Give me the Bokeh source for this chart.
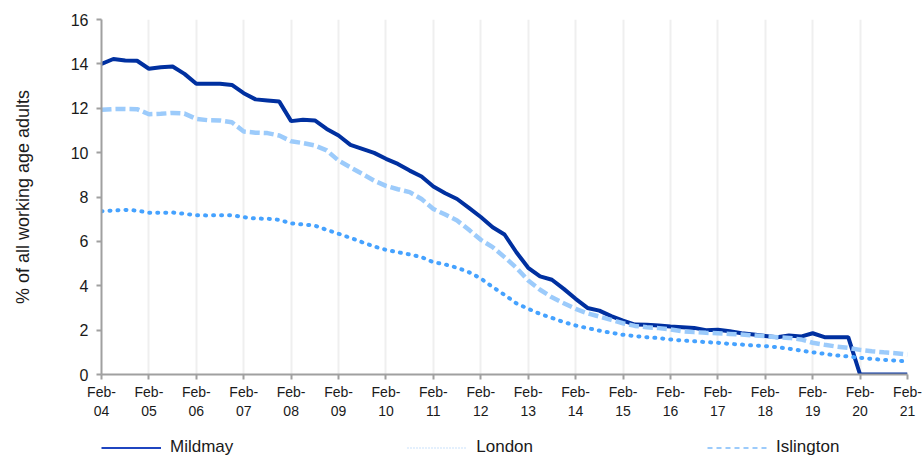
from bokeh.plotting import figure
from bokeh.layouts import column
from bokeh.models import Range1d, FixedTicker, Legend, LegendItem
from bokeh.embed import file_html
from bokeh.resources import INLINE

tick_labels = ["Feb-\n04", "Feb-\n05", "Feb-\n06", "Feb-\n07", "Feb-\n08", "Feb-\n09",
               "Feb-\n10", "Feb-\n11", "Feb-\n12", "Feb-\n13", "Feb-\n14", "Feb-\n15",
               "Feb-\n16", "Feb-\n17", "Feb-\n18", "Feb-\n19", "Feb-\n20", "Feb-\n21"]

mildmay = [14.0, 14.22, 14.15, 14.14, 13.78, 13.85, 13.88, 13.55, 13.1, 13.1,
           13.1, 13.05, 12.68, 12.4, 12.35, 12.3, 11.42, 11.48, 11.45, 11.07,
           10.77, 10.35, 10.17, 9.99, 9.72, 9.49, 9.19, 8.92, 8.47, 8.17,
           7.91, 7.51, 7.1, 6.64, 6.31, 5.51, 4.81, 4.42, 4.27, 3.86,
           3.41, 3.0, 2.88, 2.63, 2.43, 2.25, 2.24, 2.21, 2.16, 2.13,
           2.1, 2.0, 2.02, 1.95, 1.86, 1.8, 1.74, 1.68, 1.76, 1.71,
           1.86, 1.68, 1.68, 1.68, 0.0, 0.0, 0.0, 0.0, 0.0]

london = [7.36, 7.39, 7.42, 7.39, 7.29, 7.29, 7.3, 7.24, 7.18, 7.17,
          7.18, 7.18, 7.09, 7.03, 7.02, 6.97, 6.81, 6.76, 6.71, 6.52,
          6.34, 6.16, 5.96, 5.77, 5.62, 5.51, 5.41, 5.29, 5.06, 4.96,
          4.81, 4.61, 4.33, 3.94, 3.59, 3.21, 2.96, 2.73, 2.55, 2.36,
          2.21, 2.09, 1.98, 1.88, 1.79, 1.73, 1.68, 1.64, 1.58, 1.53,
          1.5, 1.46, 1.43, 1.38, 1.35, 1.31, 1.28, 1.23, 1.16, 1.08,
          1.0, 0.93, 0.86, 0.81, 0.75, 0.7, 0.66, 0.63, 0.59]

islington = [11.93, 11.96, 11.97, 11.96, 11.73, 11.75, 11.79, 11.76, 11.52, 11.46,
             11.45, 11.37, 10.95, 10.9, 10.88, 10.77, 10.51, 10.43, 10.32, 10.1,
             9.64, 9.34, 9.04, 8.74, 8.5, 8.35, 8.22, 7.91, 7.46, 7.21,
             6.94, 6.52, 6.07, 5.74, 5.29, 4.81, 4.24, 3.82, 3.48, 3.21,
             2.96, 2.76, 2.61, 2.46, 2.31, 2.19, 2.13, 2.09, 2.03, 1.95,
             1.91, 1.88, 1.86, 1.83, 1.8, 1.76, 1.73, 1.68, 1.65, 1.58,
             1.43, 1.34, 1.26, 1.2, 1.11, 1.05, 1.0, 0.96, 0.9]

quarters = list(range(len(mildmay)))
y_ticks = list(range(0, 17, 2))

FONT = "Liberation Sans"
TEXT = "#1a1a1a"
AXIS = "#a0a0a0"

p = figure(width=924, height=427, output_backend="svg", toolbar_location=None,
           x_range=Range1d(quarters[0], quarters[-1]), y_range=Range1d(y_ticks[0], y_ticks[-1]),
           min_border_left=101, min_border_right=17, min_border_top=19, min_border_bottom=53)
p.outline_line_color = None
p.background_fill_color = "white"
p.border_fill_color = "white"

# axes
xt = [i * 4 for i in range(len(tick_labels))]
p.xaxis.ticker = FixedTicker(ticks=xt)
p.xaxis.major_label_overrides = {t: lab for t, lab in zip(xt, tick_labels)}
p.yaxis.ticker = FixedTicker(ticks=y_ticks)
for ax in (p.xaxis[0], p.yaxis[0]):
    ax.axis_line_color = AXIS
    ax.axis_line_width = 2
    ax.major_tick_line_color = AXIS
    ax.major_tick_line_width = 2
    ax.major_tick_out = 5
    ax.major_tick_in = 0
    ax.minor_tick_line_color = None
    ax.major_label_text_font = FONT
    ax.major_label_text_color = TEXT
p.yaxis.major_label_standoff = 8
p.xaxis.major_label_standoff = 4
p.xaxis.major_label_text_font_size = "14px"
p.yaxis.major_label_text_font_size = "16px"
p.yaxis.axis_label = "% of all working age adults"
p.yaxis.axis_label_text_font = FONT
p.yaxis.axis_label_text_font_size = "18px"
p.yaxis.axis_label_text_font_style = "normal"
p.yaxis.axis_label_text_color = TEXT
p.yaxis.axis_label_standoff = 35

p.xgrid.ticker = FixedTicker(ticks=xt)
p.xgrid.grid_line_color = "#efefef"
p.xgrid.grid_line_width = 2
p.ygrid.grid_line_color = None

r_m = p.line(quarters, mildmay, line_color="#0030a0", line_width=4)
r_l = p.line(quarters, london, line_color="#45a2ff", line_width=4,
             line_dash="1 7", line_cap="round")
r_i = p.line(quarters, islington, line_color="#9ccbfb", line_width=4.5,
             line_dash="10 4")

# legend strip (separate figure below the chart); key lines lie outside its view
lf = figure(width=924, height=30, output_backend="svg", toolbar_location=None,
            x_range=Range1d(0, 1), y_range=Range1d(0, 1),
            x_axis_type=None, y_axis_type=None,
            min_border_left=0, min_border_right=0, min_border_top=0, min_border_bottom=0)
lf.outline_line_color = None
lf.grid.grid_line_color = None
lf.background_fill_color = "white"
lf.border_fill_color = "white"

off = [5, 6]
k_m = lf.line(off, off, line_color="#1f45c0", line_width=2)
k_l = lf.line(off, off, line_color="#b8d8fa", line_width=1.5, line_dash="1 2")
k_i = lf.line(off, off, line_color="#9ccbfb", line_width=2, line_dash="5 4")

leg = Legend(items=[LegendItem(label="Mildmay", renderers=[k_m]),
                    LegendItem(label="London", renderers=[k_l]),
                    LegendItem(label="Islington", renderers=[k_i])],
             location=(0, 0), orientation="horizontal", spacing=174,
             glyph_width=60, glyph_height=17, label_height=17, label_standoff=9,
             padding=0, margin=0, border_line_color=None, background_fill_alpha=0,
             label_text_font=FONT, label_text_font_size="17px", label_text_color=TEXT)
lf.add_layout(leg, "center")

open("out.html", "w").write(file_html(column(p, lf), INLINE))
